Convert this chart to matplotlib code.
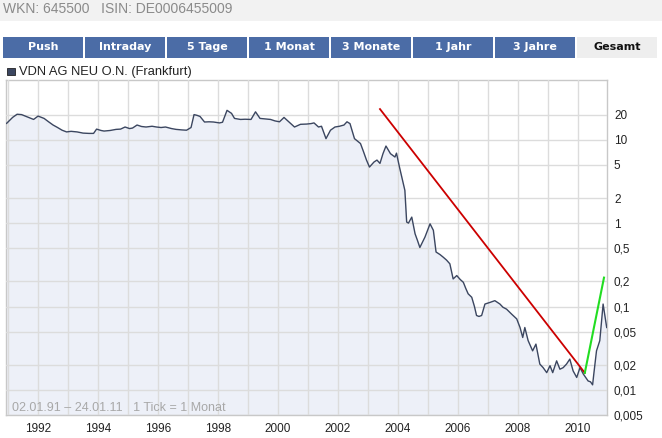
import numpy as np
import matplotlib
matplotlib.use('Agg')
import matplotlib.pyplot as plt
from matplotlib.patches import Rectangle

# data (decimal year, price in EUR)
dates = [1990.95, 1991.15, 1991.30, 1991.45, 1991.60, 1991.75, 1991.85, 1992.00, 1992.10, 1992.20,
         1992.35, 1992.50, 1992.65, 1992.80, 1992.95, 1993.10, 1993.30, 1993.50, 1993.70, 1993.85,
         1993.95, 1994.10, 1994.20, 1994.40, 1994.60, 1994.75, 1994.90, 1995.05, 1995.15, 1995.30,
         1995.45, 1995.60, 1995.80, 1995.95, 1996.10, 1996.25, 1996.45, 1996.60, 1996.80, 1996.95,
         1997.10, 1997.20, 1997.30, 1997.40, 1997.55, 1997.70, 1997.85, 1998.05, 1998.15, 1998.30,
         1998.45, 1998.55, 1998.75, 1998.90, 1999.10, 1999.25, 1999.40, 1999.55, 1999.75, 1999.90,
         2000.05, 2000.20, 2000.40, 2000.55, 2000.75, 2000.95, 2001.10, 2001.20, 2001.35, 2001.45,
         2001.60, 2001.75, 2001.90, 2002.05, 2002.20, 2002.30, 2002.40, 2002.55, 2002.75, 2002.85,
         2002.95, 2003.05, 2003.20, 2003.30, 2003.40, 2003.50, 2003.60, 2003.75, 2003.90, 2003.95,
         2004.05, 2004.15, 2004.23, 2004.29, 2004.35, 2004.46, 2004.57, 2004.65, 2004.73, 2004.90,
         2005.07, 2005.18, 2005.27, 2005.40, 2005.51, 2005.62, 2005.73, 2005.84, 2005.96, 2006.08,
         2006.18, 2006.26, 2006.34, 2006.46, 2006.55, 2006.62, 2006.70, 2006.79, 2006.90, 2007.07,
         2007.23, 2007.40, 2007.50, 2007.62, 2007.79, 2007.96, 2008.07, 2008.16, 2008.23, 2008.34,
         2008.49, 2008.60, 2008.73, 2008.84, 2008.96, 2009.07, 2009.16, 2009.29, 2009.40, 2009.51,
         2009.62, 2009.73, 2009.84, 2009.96, 2010.07, 2010.18, 2010.34, 2010.42, 2010.49, 2010.53,
         2010.62, 2010.73, 2010.84, 2010.96]
prices = [15.7, 18.5, 20.2, 20.0, 19.0, 18.0, 17.5, 19.2, 18.6, 18.0,
          16.4, 15.0, 14.0, 13.0, 12.4, 12.6, 12.4, 12.0, 11.9, 11.9,
          13.4, 12.9, 12.7, 12.9, 13.3, 13.4, 14.2, 13.6, 13.8, 15.0,
          14.4, 14.2, 14.5, 14.2, 14.0, 14.2, 13.6, 13.3, 13.1, 13.0,
          14.0, 20.0, 19.6, 19.0, 16.3, 16.4, 16.3, 15.9, 16.2, 22.5,
          20.7, 18.0, 17.5, 17.6, 17.5, 21.6, 18.0, 17.8, 17.5, 16.8,
          16.4, 18.5, 15.9, 14.2, 15.3, 15.4, 15.6, 15.9, 14.2, 14.5,
          10.3, 13.0, 14.2, 14.5, 15.0, 16.4, 15.6, 10.3, 9.0, 7.2,
          5.7, 4.7, 5.4, 5.7, 5.2, 6.8, 8.4, 6.8, 6.2, 6.9,
          4.7, 3.3, 2.47, 1.03, 1.0, 1.18, 0.745, 0.62, 0.51, 0.68,
          0.98, 0.82, 0.45, 0.42, 0.39, 0.36, 0.325, 0.214, 0.235, 0.21,
          0.195, 0.165, 0.142, 0.129, 0.10, 0.078, 0.076, 0.078, 0.107, 0.112,
          0.1175, 0.107, 0.098, 0.093, 0.081, 0.071, 0.056, 0.0425, 0.056, 0.039,
          0.0294, 0.0354, 0.0204, 0.0185, 0.0161, 0.0195, 0.0161, 0.0223, 0.0177, 0.0185,
          0.0204, 0.0234, 0.0169, 0.0141, 0.0185, 0.0155, 0.0128, 0.0125, 0.0115, 0.0155,
          0.0294, 0.039, 0.107, 0.056]

# trend lines drawn on the chart
red_x = [2003.40, 2010.23]
red_y = [23.3, 0.016]
green_x = [2010.23, 2010.87]
green_y = [0.016, 0.222]

y_ticks = [20, 10, 5, 2, 1, 0.5, 0.2, 0.1, 0.05, 0.02, 0.01, 0.005]
y_labels = ['20', '10', '5', '2', '1', '0,5', '0,2', '0,1', '0,05', '0,02', '0,01', '0,005']
years = list(range(1992, 2011, 2))
tabs = ['Push', 'Intraday', '5 Tage', '1 Monat', '3 Monate', '1 Jahr', '3 Jahre', 'Gesamt']

W, H = 662, 438
fig = plt.figure(figsize=(W / 100, H / 100), dpi=100)
plt.rcParams['font.family'] = ['Liberation Sans', 'DejaVu Sans']

def fx(px):
    return px / W

def fy(py):
    return 1 - py / H

# header strip
fig.patches.append(Rectangle((0, fy(21)), 1, 21 / H, transform=fig.transFigure,
                             facecolor='#f2f2f2', edgecolor='none', zorder=0))
fig.text(fx(3), fy(9), 'WKN: 645500   ISIN: DE0006455009', color='#8a8a8a',
         fontsize=10, va='center', ha='left')

# tab bar
for i, name in enumerate(tabs):
    x0 = 3 + i * 82
    active = name == 'Gesamt'
    fig.patches.append(Rectangle((fx(x0), fy(58)), fx(80), 21 / H, transform=fig.transFigure,
                                 facecolor='#eeeeee' if active else '#4b6ca6',
                                 edgecolor='none', zorder=1))
    fig.text(fx(x0 + 40), fy(47.5), name, color='#111111' if active else 'white',
             fontsize=8, fontweight='bold', family='DejaVu Sans',
             ha='center', va='center')

# legend
fig.patches.append(Rectangle((fx(7), fy(75)), fx(8), 7 / H, transform=fig.transFigure,
                             facecolor='#3b4660', edgecolor='#222222', lw=0.6, zorder=1))
fig.text(fx(19), fy(72), 'VDN AG NEU O.N. (Frankfurt)', color='#222222',
         fontsize=9.3, ha='left', va='center')

ax = fig.add_axes([fx(6), fy(415), fx(601), 335 / H])
ax.set_yscale('log')
ax.set_xlim(1990.93, 2010.97)
ax.set_ylim(0.005, 52)

ax.fill_between(dates, prices, 0.001, color='#edf0f8', lw=0, zorder=1)
ax.plot(dates, prices, color='#3b4660', lw=1.0, zorder=3)
ax.plot(red_x, red_y, color='#cc0000', lw=1.3, zorder=4)
ax.plot(green_x, green_y, color='#22dd22', lw=1.5, zorder=4)

ax.set_yticks(y_ticks)
ax.set_yticklabels(y_labels)
ax.yaxis.set_minor_locator(matplotlib.ticker.NullLocator())
ax.yaxis.tick_right()
ax.set_xticks(range(1991, 2011), minor=True)
ax.set_xticks(years)
ax.set_xticklabels([str(y) for y in years])
ax.tick_params(axis='both', which='both', length=0, labelsize=8.5, colors='#222222')
ax.tick_params(axis='y', pad=5)
ax.tick_params(axis='x', pad=6)
ax.grid(True, which='both', color='#dcdcdc', lw=1.0, zorder=2)
ax.set_axisbelow(False)
for s in ax.spines.values():
    s.set_color('#c8c8c8')
    s.set_linewidth(1.0)

fig.text(fx(12), fy(408), '02.01.91 \u2013 24.01.11   1 Tick = 1 Monat', color='#a8a8a8',
         fontsize=9, ha='left', va='center')

fig.savefig('out.png', dpi=100)
